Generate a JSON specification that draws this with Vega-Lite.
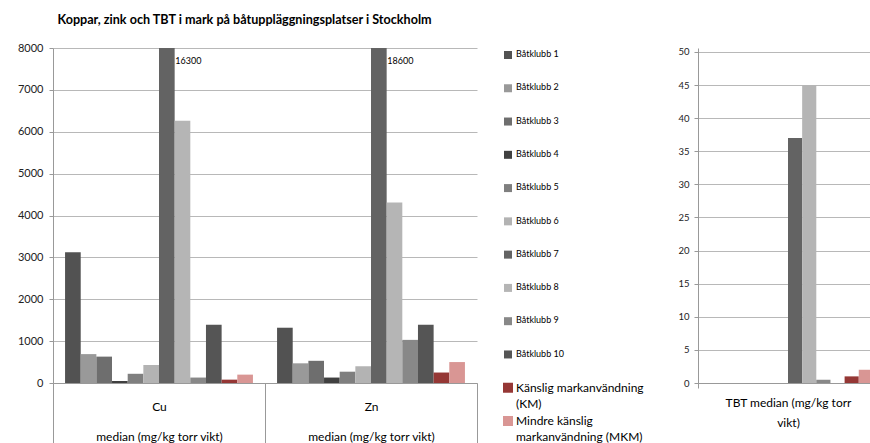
{
  "$schema": "https://vega.github.io/schema/vega-lite/v6.json",
  "padding": {"left": 17, "top": 14, "right": 0, "bottom": 0},
  "title": {"text": "Koppar, zink och TBT i mark på båtuppläggningsplatser i Stockholm", "anchor": "start", "dx": 40, "fontSize": 12.6, "font": "Lato", "fontWeight": "bold", "color": "#000000", "offset": 15},
  "config": {
    "view": {"stroke": null},
    "font": "Lato",
    "axis": {"labelFont": "Lato", "labelColor": "#222222", "domainColor": "#999999", "tickColor": "#999999", "gridColor": "#b8b8b8", "gridOpacity": 1}
  },
  "datasets": {
    "d": [
      {"panel": "metal", "group": "Cu", "series": "Båtklubb 1", "value": 3120},
      {"panel": "metal", "group": "Cu", "series": "Båtklubb 2", "value": 690},
      {"panel": "metal", "group": "Cu", "series": "Båtklubb 3", "value": 630},
      {"panel": "metal", "group": "Cu", "series": "Båtklubb 4", "value": 50},
      {"panel": "metal", "group": "Cu", "series": "Båtklubb 5", "value": 220},
      {"panel": "metal", "group": "Cu", "series": "Båtklubb 6", "value": 430},
      {"panel": "metal", "group": "Cu", "series": "Båtklubb 7", "value": 16300},
      {"panel": "metal", "group": "Cu", "series": "Båtklubb 8", "value": 6260},
      {"panel": "metal", "group": "Cu", "series": "Båtklubb 9", "value": 130},
      {"panel": "metal", "group": "Cu", "series": "Båtklubb 10", "value": 1390},
      {"panel": "metal", "group": "Cu", "series": "Känslig markanvändning (KM)", "value": 80},
      {"panel": "metal", "group": "Cu", "series": "Mindre känslig markanvändning (MKM)", "value": 200},
      {"panel": "metal", "group": "Zn", "series": "Båtklubb 1", "value": 1320},
      {"panel": "metal", "group": "Zn", "series": "Båtklubb 2", "value": 470},
      {"panel": "metal", "group": "Zn", "series": "Båtklubb 3", "value": 530},
      {"panel": "metal", "group": "Zn", "series": "Båtklubb 4", "value": 130},
      {"panel": "metal", "group": "Zn", "series": "Båtklubb 5", "value": 270},
      {"panel": "metal", "group": "Zn", "series": "Båtklubb 6", "value": 400},
      {"panel": "metal", "group": "Zn", "series": "Båtklubb 7", "value": 18600},
      {"panel": "metal", "group": "Zn", "series": "Båtklubb 8", "value": 4310},
      {"panel": "metal", "group": "Zn", "series": "Båtklubb 9", "value": 1030},
      {"panel": "metal", "group": "Zn", "series": "Båtklubb 10", "value": 1390},
      {"panel": "metal", "group": "Zn", "series": "Känslig markanvändning (KM)", "value": 250},
      {"panel": "metal", "group": "Zn", "series": "Mindre känslig markanvändning (MKM)", "value": 500},
      {"panel": "tbt", "group": "TBT", "series": "Båtklubb 7", "value": 37},
      {"panel": "tbt", "group": "TBT", "series": "Båtklubb 8", "value": 45},
      {"panel": "tbt", "group": "TBT", "series": "Båtklubb 9", "value": 0.5},
      {"panel": "tbt", "group": "TBT", "series": "Känslig markanvändning (KM)", "value": 1},
      {"panel": "tbt", "group": "TBT", "series": "Mindre känslig markanvändning (MKM)", "value": 2}
    ],
    "leg": [
      {"series": "Båtklubb 1", "label": "Båtklubb 1"},
      {"series": "Båtklubb 2", "label": "Båtklubb 2"},
      {"series": "Båtklubb 3", "label": "Båtklubb 3"},
      {"series": "Båtklubb 4", "label": "Båtklubb 4"},
      {"series": "Båtklubb 5", "label": "Båtklubb 5"},
      {"series": "Båtklubb 6", "label": "Båtklubb 6"},
      {"series": "Båtklubb 7", "label": "Båtklubb 7"},
      {"series": "Båtklubb 8", "label": "Båtklubb 8"},
      {"series": "Båtklubb 9", "label": "Båtklubb 9"},
      {"series": "Båtklubb 10", "label": "Båtklubb 10"},
      {"series": "Känslig markanvändning (KM)", "label": "Känslig markanvändning\n(KM)"},
      {"series": "Mindre känslig markanvändning (MKM)", "label": "Mindre känslig\nmarkanvändning (MKM)"}
    ]
  },
  "data": {"name": "d"},
  "spacing": 25,
  "resolve": {"legend": {"color": "independent"}, "scale": {"y": "independent", "x": "independent", "xOffset": "independent", "size": "independent"}},
  "hconcat": [
    {
      "width": 424,
      "height": 335,
      "transform": [{"filter": "datum.panel == 'metal'"}],
      "layer": [
        {
          "mark": {"type": "bar", "clip": true},
          "encoding": {
            "x": {"field": "group", "type": "nominal", "sort": ["Cu", "Zn"], "scale": {"paddingInner": 0, "paddingOuter": 0},
              "axis": {"title": null, "labelAngle": 0, "tickBand": "extent", "tickSize": 62, "labelPadding": -44, "labelFontSize": 12, "labelColor": "#000000", "labelLineHeight": 30, "labelExpr": "datum.value ? [datum.value, 'median (mg/kg torr vikt)'] : ''"}},
            "xOffset": {"field": "series", "type": "nominal", "scale": {"domain": ["Båtklubb 1", "Båtklubb 2", "Båtklubb 3", "Båtklubb 4", "Båtklubb 5", "Båtklubb 6", "Båtklubb 7", "Båtklubb 8", "Båtklubb 9", "Båtklubb 10", "Känslig markanvändning (KM)", "Mindre känslig markanvändning (MKM)"], "paddingInner": 0, "paddingOuter": 0.77}},
            "y": {"field": "value", "type": "quantitative", "scale": {"domain": [0, 8000], "nice": false},
              "axis": {"title": null, "values": [0, 1000, 2000, 3000, 4000, 5000, 6000, 7000, 8000], "format": "d", "labelFontSize": 11, "tickSize": 4, "labelPadding": 6, "grid": true}},
            "color": {"field": "series", "type": "nominal",
              "scale": {"domain": ["Båtklubb 1", "Båtklubb 2", "Båtklubb 3", "Båtklubb 4", "Båtklubb 5", "Båtklubb 6", "Båtklubb 7", "Båtklubb 8", "Båtklubb 9", "Båtklubb 10", "Känslig markanvändning (KM)", "Mindre känslig markanvändning (MKM)"],
                "range": ["#525252", "#999999", "#6e6e6e", "#404040", "#7f7f7f", "#b3b3b3", "#636363", "#b5b5b5", "#888888", "#555555", "#953735", "#d99694"]},
              "legend": null}
          }
        },
        {
          "transform": [{"filter": "datum.value > 8000"}],
          "mark": {"type": "text", "align": "left", "baseline": "middle", "dx": 8.5, "dy": 13, "fontSize": 9, "color": "#000000"},
          "encoding": {
            "x": {"field": "group", "type": "nominal", "sort": ["Cu", "Zn"]},
            "xOffset": {"field": "series", "type": "nominal"},
            "y": {"datum": 8000},
            "text": {"field": "value", "type": "quantitative", "format": "d"}
          }
        }
      ]
    },
    {
      "width": 144,
      "height": 380,
      "data": {"name": "leg"},
      "layer": [
        {
          "mark": {"type": "square", "opacity": 1},
          "encoding": {
            "x": {"datum": 0, "type": "quantitative", "scale": {"domain": [0, 1]}, "axis": null},
            "y": {"field": "series", "type": "nominal", "sort": null, "scale": {"type": "point", "padding": 0.21, "domain": ["Båtklubb 1", "Båtklubb 2", "Båtklubb 3", "Båtklubb 4", "Båtklubb 5", "Båtklubb 6", "Båtklubb 7", "Båtklubb 8", "Båtklubb 9", "Båtklubb 10", "Känslig markanvändning (KM)", "Mindre känslig markanvändning (MKM)"]}, "axis": null},
            "color": {"field": "series", "type": "nominal", "legend": null},
            "size": {"condition": {"test": "indexof(datum.series, 'Båtklubb') == 0", "value": 64}, "value": 100}
          }
        },
        {
          "mark": {"type": "text", "align": "left", "baseline": "top", "dx": 8, "dy": -4.8, "lineBreak": "\n", "lineHeight": 16, "color": "#000000"},
          "encoding": {
            "x": {"datum": 0, "type": "quantitative"},
            "y": {"field": "series", "type": "nominal", "sort": null},
            "text": {"field": "label", "type": "nominal"},
            "size": {"condition": {"test": "indexof(datum.series, 'Båtklubb') == 0", "value": 9}, "value": 12}
          }
        }
      ]
    },
    {
      "width": 180,
      "height": 335,
      "transform": [{"filter": "datum.panel == 'tbt'"}],
      "mark": "bar",
      "encoding": {
        "x": {"field": "group", "type": "nominal", "scale": {"paddingInner": 0, "paddingOuter": 0},
          "axis": {"title": null, "labelAngle": 0, "tickBand": "extent", "tickSize": 5, "labelPadding": 9, "labelFontSize": 12, "labelColor": "#000000", "labelLineHeight": 20, "labelExpr": "datum.value ? ['TBT median (mg/kg torr', 'vikt)'] : ''"}},
        "xOffset": {"field": "series", "type": "nominal", "scale": {"domain": ["Båtklubb 1", "Båtklubb 2", "Båtklubb 3", "Båtklubb 4", "Båtklubb 5", "Båtklubb 6", "Båtklubb 7", "Båtklubb 8", "Båtklubb 9", "Båtklubb 10", "Känslig markanvändning (KM)", "Mindre känslig markanvändning (MKM)"], "paddingInner": 0, "paddingOuter": 0.36}},
        "y": {"field": "value", "type": "quantitative", "scale": {"domain": [0, 50.6], "nice": false},
          "axis": {"title": null, "values": [0, 5, 10, 15, 20, 25, 30, 35, 40, 45, 50], "labelFontSize": 9.5, "tickSize": 4, "labelPadding": 5, "grid": true}},
        "color": {"field": "series", "type": "nominal", "legend": null}
      }
    }
  ]
}
